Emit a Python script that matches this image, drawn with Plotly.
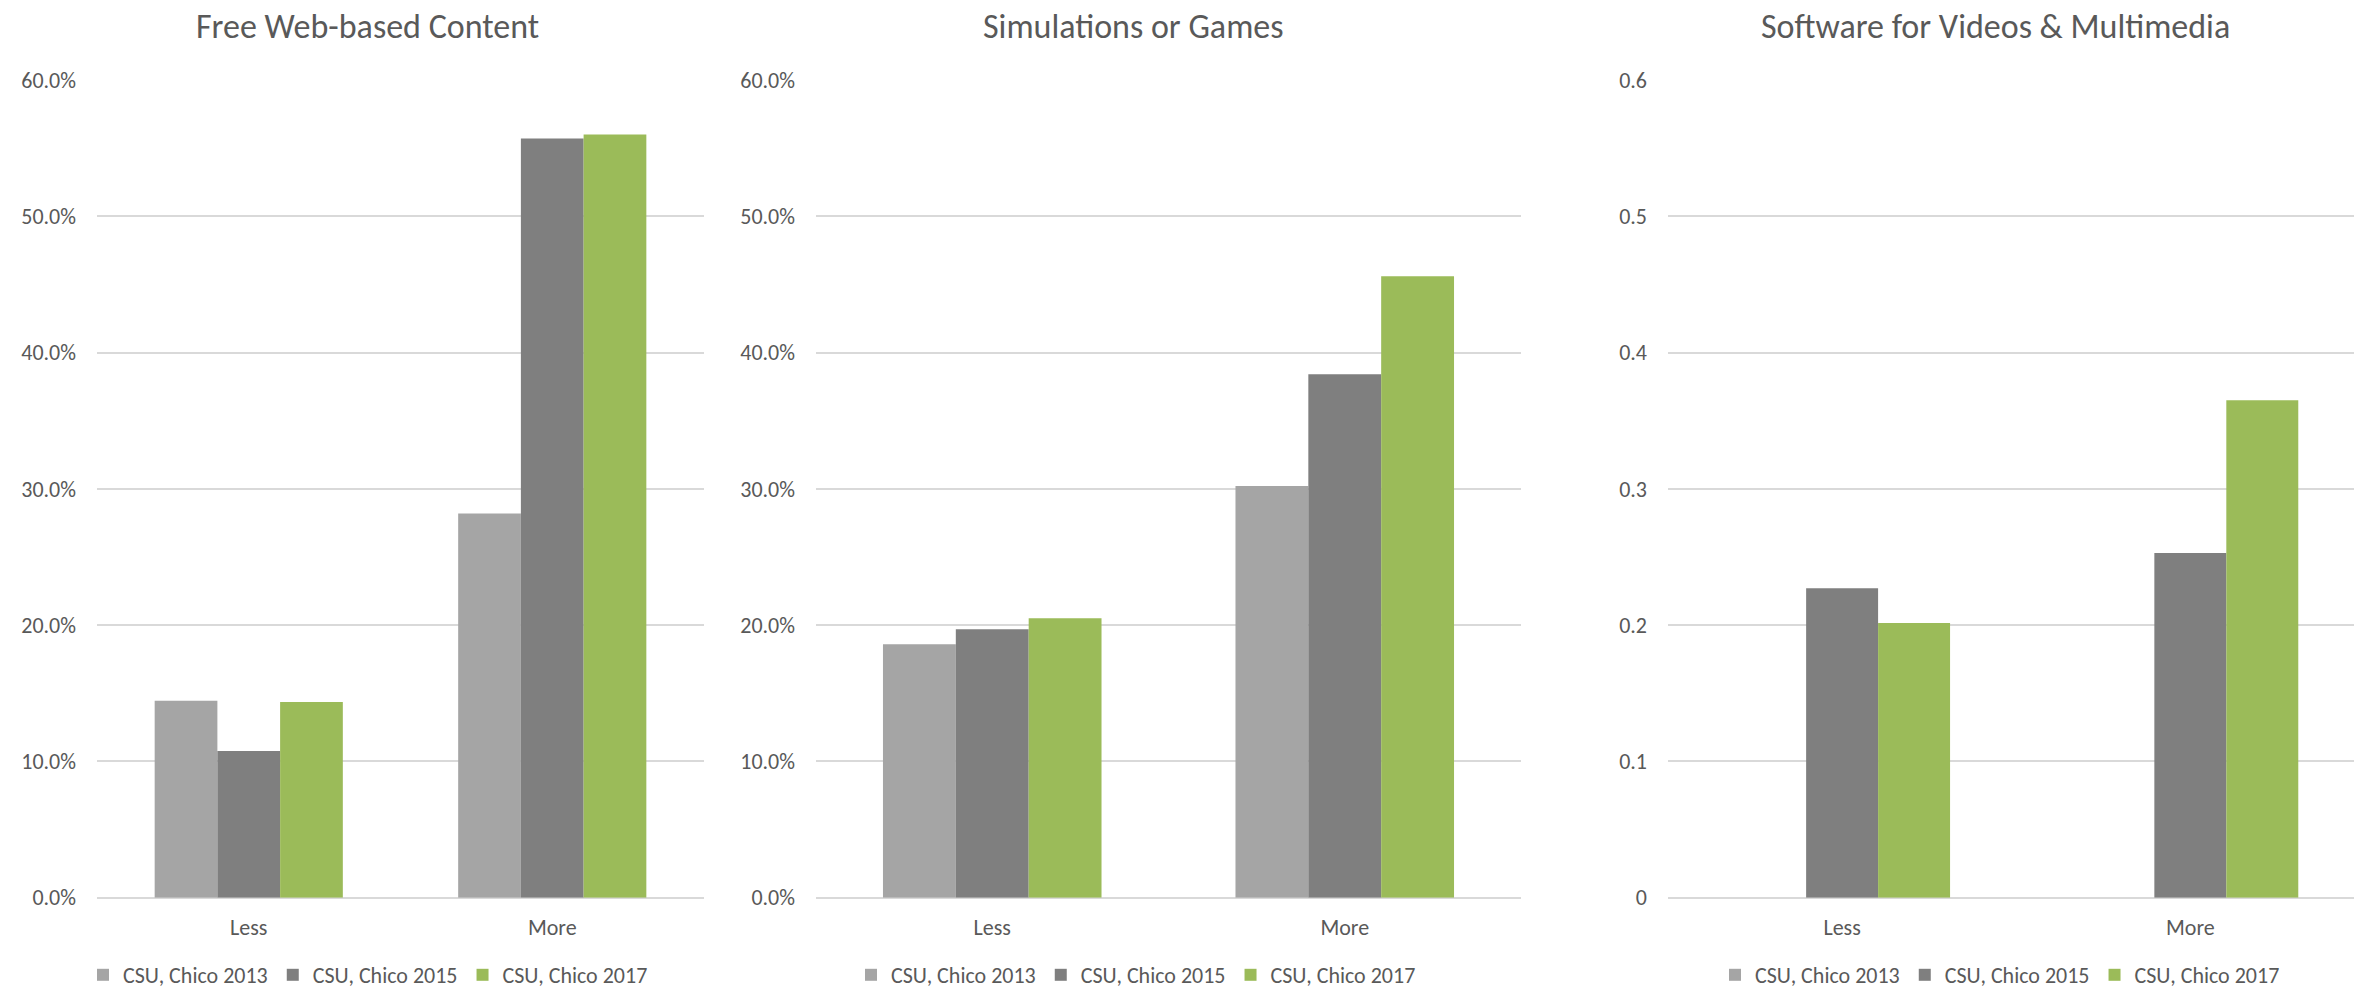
import plotly.graph_objects as go
from plotly.subplots import make_subplots

categories = ['Less', 'More']
series_names = ['CSU, Chico 2013', 'CSU, Chico 2015', 'CSU, Chico 2017']
series_colors = ['#A5A5A5', '#7F7F7F', '#9BBB59']

panel_titles = [
    'Free Web-based Content',
    'Simulations or Games',
    'Software for Videos & Multimedia',
]

web_2013 = [0.1445, 0.282]
web_2015 = [0.1076, 0.557]
web_2017 = [0.1436, 0.560]

sim_2013 = [0.186, 0.302]
sim_2015 = [0.197, 0.384]
sim_2017 = [0.205, 0.456]

soft_2013 = [None, None]
soft_2015 = [0.227, 0.253]
soft_2017 = [0.2015, 0.365]

panels = [
    [web_2013, web_2015, web_2017],
    [sim_2013, sim_2015, sim_2017],
    [soft_2013, soft_2015, soft_2017],
]

W, H = 2354, 993
FONT = 'Calibri, Carlito, Lato, sans-serif'
TEXT = '#595959'
GRID = '#D9D9D9'

fig = make_subplots(rows=1, cols=3)

legend_ids = ['legend', 'legend2', 'legend3']
for col, panel in enumerate(panels, start=1):
    for name, values, color in zip(series_names, panel, series_colors):
        fig.add_trace(
            go.Bar(
                x=categories,
                y=values,
                name=name,
                marker_color=color,
                marker_line_width=0,
                legend=legend_ids[col - 1],
            ),
            row=1,
            col=col,
        )

# pixel layout of the three plot areas
x_domains = [
    [97 / W, 704 / W],
    [816 / W, 1521 / W],
    [1668 / W, 1.0],
]
x_ranges = [[-0.5, 1.5], [-0.5, 1.5], [-0.5, 1.47]]
y_domain = [(H - 897.7) / H, (H - 80) / H]
tick_formats = ['.1%', '.1%', '']

for i in range(3):
    fig.update_xaxes(
        domain=x_domains[i],
        range=x_ranges[i],
        automargin=False,
        showgrid=False,
        showline=False,
        zeroline=False,
        ticks='',
        ticklabelstandoff=14,
        tickfont=dict(family=FONT, size=22, color=TEXT),
        row=1,
        col=i + 1,
    )
    fig.update_yaxes(
        domain=y_domain,
        range=[0, 0.6],
        dtick=0.1,
        tickformat=tick_formats[i],
        automargin=False,
        showgrid=True,
        gridcolor=GRID,
        gridwidth=2,
        zeroline=True,
        zerolinecolor=GRID,
        zerolinewidth=2,
        showline=False,
        ticks='',
        ticklabelstandoff=20,
        tickfont=dict(family=FONT, size=22, color=TEXT),
        row=1,
        col=i + 1,
    )

title_x = [367, 1133, 1995]
for title, tx in zip(panel_titles, title_x):
    fig.add_annotation(
        text=title,
        x=tx / W,
        y=(H - 27) / H,
        xref='paper',
        yref='paper',
        xanchor='center',
        yanchor='middle',
        showarrow=False,
        font=dict(family=FONT, size=34, color=TEXT),
    )

legend_x = [368, 1136, 2000]
legend_style = dict(
    orientation='h',
    xref='container',
    yref='container',
    xanchor='center',
    yanchor='middle',
    y=(H - 975) / H,
    font=dict(family=FONT, size=22, color=TEXT),
    bgcolor='rgba(0,0,0,0)',
    itemclick=False,
)
fig.update_layout(
    legend=dict(x=legend_x[0] / W, **legend_style),
    legend2=dict(x=legend_x[1] / W, **legend_style),
    legend3=dict(x=legend_x[2] / W, **legend_style),
)

fig.update_layout(
    width=W,
    height=H,
    margin=dict(l=0, r=0, t=0, b=0, autoexpand=False),
    barmode='group',
    bargap=0.38,
    bargroupgap=0,
    plot_bgcolor='white',
    paper_bgcolor='white',
    showlegend=True,
    font_family=FONT,
)

fig.write_html(
    'out.html',
    config={'displayModeBar': False},
    post_script="document.body.style.margin='0';",
)
